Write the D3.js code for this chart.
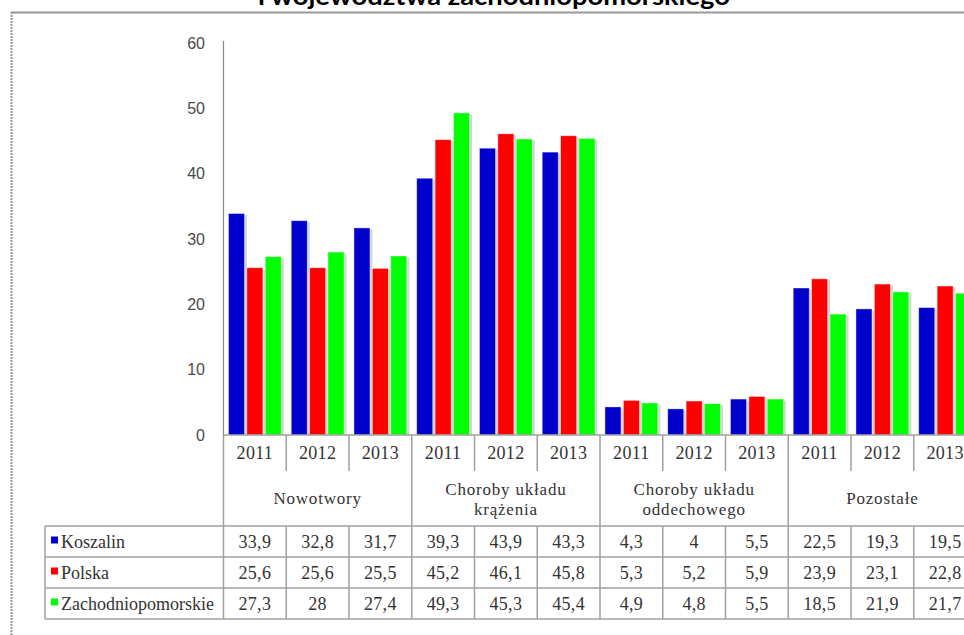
<!DOCTYPE html>
<html><head><meta charset="utf-8">
<script src="https://cdn.jsdelivr.net/npm/d3@7"></script>
<style>html,body{margin:0;padding:0;background:#fff;}svg{display:block;}</style>
</head><body>
<svg id="c" width="964" height="635"></svg>
<script>
const titleText = "i województwa zachodniopomorskiego";
const groups = ["Nowotwory", "Choroby układu krążenia", "Choroby układu oddechowego", "Pozostałe"];
const groupLines = [["Nowotwory"], ["Choroby układu", "krążenia"], ["Choroby układu", "oddechowego"], ["Pozostałe"]];
const years = ["2011", "2012", "2013"];
const seriesNames = ["Koszalin", "Polska", "Zachodniopomorskie"];
const seriesColors = ["#0000CC", "#FF0000", "#00FF00"];
const koszalin = [33.9, 32.8, 31.7, 39.3, 43.9, 43.3, 4.3, 4, 5.5, 22.5, 19.3, 19.5];
const polska = [25.6, 25.6, 25.5, 45.2, 46.1, 45.8, 5.3, 5.2, 5.9, 23.9, 23.1, 22.8];
const zachodniopomorskie = [27.3, 28, 27.4, 49.3, 45.3, 45.4, 4.9, 4.8, 5.5, 18.5, 21.9, 21.7];
const yTicks = [0, 10, 20, 30, 40, 50, 60];

const seriesValues = [koszalin, polska, zachodniopomorskie];
const cols = [];
groups.forEach((g, gi) => years.forEach((y, yi) => cols.push({key: gi + "-" + y, g: gi, year: y, idx: gi * 3 + yi})));

const svg = d3.select("#c");
const plotLeft = 223.5, colW = 62.75;
const x0 = d3.scaleBand().domain(cols.map(c => c.key)).range([plotLeft, plotLeft + colW * cols.length]).padding(0);
const x1 = d3.scaleBand().domain(seriesNames).range([0, x0.bandwidth()]).paddingInner(0.13).paddingOuter(0.27);
const y = d3.scaleLinear().domain([0, 60]).range([435, 43]);

const gridC = "#a0a0a0";

// frame
svg.append("line").attr("x1", 11).attr("x2", 964).attr("y1", 12.5).attr("y2", 12.5).attr("stroke", "#999").attr("stroke-width", 2);
svg.append("line").attr("x1", 11.5).attr("x2", 11.5).attr("y1", 12).attr("y2", 635).attr("stroke", "#999").attr("stroke-width", 2).attr("stroke-dasharray", "2,1");

// title (cut at top, as in the reference)
svg.append("text").attr("x", 494).attr("y", 5).attr("text-anchor", "middle")
  .attr("font-family", "Lato, 'Liberation Sans', sans-serif").attr("font-weight", "bold").attr("font-size", 24)
  .attr("textLength", 472).attr("lengthAdjust", "spacingAndGlyphs").attr("fill", "#000").text(titleText);

// y axis labels
svg.append("g").selectAll("text").data(yTicks).join("text")
  .attr("x", 205).attr("y", d => y(d)).attr("dy", "0.35em").attr("text-anchor", "end")
  .attr("font-family", "'Liberation Sans', Arial, sans-serif").attr("font-size", 16).attr("fill", "#4a4a4a")
  .text(d => d);
svg.append("line").attr("x1", plotLeft).attr("x2", plotLeft).attr("y1", 41).attr("y2", 435).attr("stroke", "#888").attr("stroke-width", 1.2);

// bars
const bars = svg.append("g");
cols.forEach(c => {
  seriesNames.forEach((s, si) => {
    const v = seriesValues[si][c.idx];
    const bx = x0(c.key) + x1(s);
    bars.append("rect").attr("x", bx + 2.5).attr("y", y(v) + 1.5).attr("width", x1.bandwidth()).attr("height", y(0) - y(v) - 1.5)
      .attr("fill", "#d4d4d4");
  });
});
cols.forEach(c => {
  seriesNames.forEach((s, si) => {
    const v = seriesValues[si][c.idx];
    const bx = x0(c.key) + x1(s);
    bars.append("rect").attr("x", bx).attr("y", y(v)).attr("width", x1.bandwidth()).attr("height", y(0) - y(v))
      .attr("fill", seriesColors[si]).attr("stroke", "#fff").attr("stroke-opacity", 0.5).attr("stroke-width", 0.8);
  });
});

// x axis line
svg.append("line").attr("x1", plotLeft).attr("x2", 964).attr("y1", 435).attr("y2", 435).attr("stroke", gridC).attr("stroke-width", 1.5);

const serif = "'Liberation Serif', 'Times New Roman', serif";
const tbl = svg.append("g");
// year labels
tbl.selectAll("text.yr").data(cols).join("text").attr("class", "yr")
  .attr("x", d => x0(d.key) + colW / 2).attr("y", 453).attr("dy", "0.35em").attr("text-anchor", "middle")
  .attr("font-family", serif).attr("font-size", 18).attr("letter-spacing", 0.3).attr("fill", "#333").text(d => d.year);
// vertical separators
cols.forEach((c, i) => {
  const xx = x0(c.key);
  const isGroupStart = i % 3 === 0;
  tbl.append("line").attr("x1", xx).attr("x2", xx).attr("y1", 435).attr("y2", isGroupStart ? 619 : 471)
    .attr("stroke", gridC).attr("stroke-width", 1.5);
  if (!isGroupStart) tbl.append("line").attr("x1", xx).attr("x2", xx).attr("y1", 526).attr("y2", 619).attr("stroke", gridC).attr("stroke-width", 1.5);
});
// category labels
groupLines.forEach((lines, gi) => {
  const cx = x0(cols[gi * 3].key) + colW * 1.5;
  const t = tbl.append("text").attr("text-anchor", "middle").attr("font-family", serif).attr("font-size", 17)
    .attr("letter-spacing", 0.8).attr("fill", "#333");
  const y0 = lines.length === 1 ? 498 : 489;
  lines.forEach((l, li) => t.append("tspan").attr("x", cx).attr("y", y0 + li * 20).attr("dy", "0.35em").text(l));
});
// table rows
const rowTops = [526, 557, 588, 619];
rowTops.forEach(ry => tbl.append("line").attr("x1", 45).attr("x2", 964).attr("y1", ry).attr("y2", ry).attr("stroke", gridC).attr("stroke-width", 1.5));
tbl.append("line").attr("x1", 45).attr("x2", 45).attr("y1", 526).attr("y2", 619).attr("stroke", gridC).attr("stroke-width", 1.5);
seriesNames.forEach((s, si) => {
  const cy = (rowTops[si] + rowTops[si + 1]) / 2;
  tbl.append("rect").attr("x", 51).attr("y", cy - 5).attr("width", 7).attr("height", 7).attr("fill", seriesColors[si]);
  tbl.append("text").attr("x", 61).attr("y", cy).attr("dy", "0.35em").attr("font-family", serif).attr("font-size", 18).attr("fill", "#333").text(s);
  cols.forEach(c => {
    tbl.append("text").attr("x", x0(c.key) + colW / 2).attr("y", cy).attr("dy", "0.35em").attr("text-anchor", "middle")
      .attr("font-family", serif).attr("font-size", 18).attr("letter-spacing", 0.3).attr("fill", "#333")
      .text(String(seriesValues[si][c.idx]).replace(".", ","));
  });
});
</script>
</body></html>
